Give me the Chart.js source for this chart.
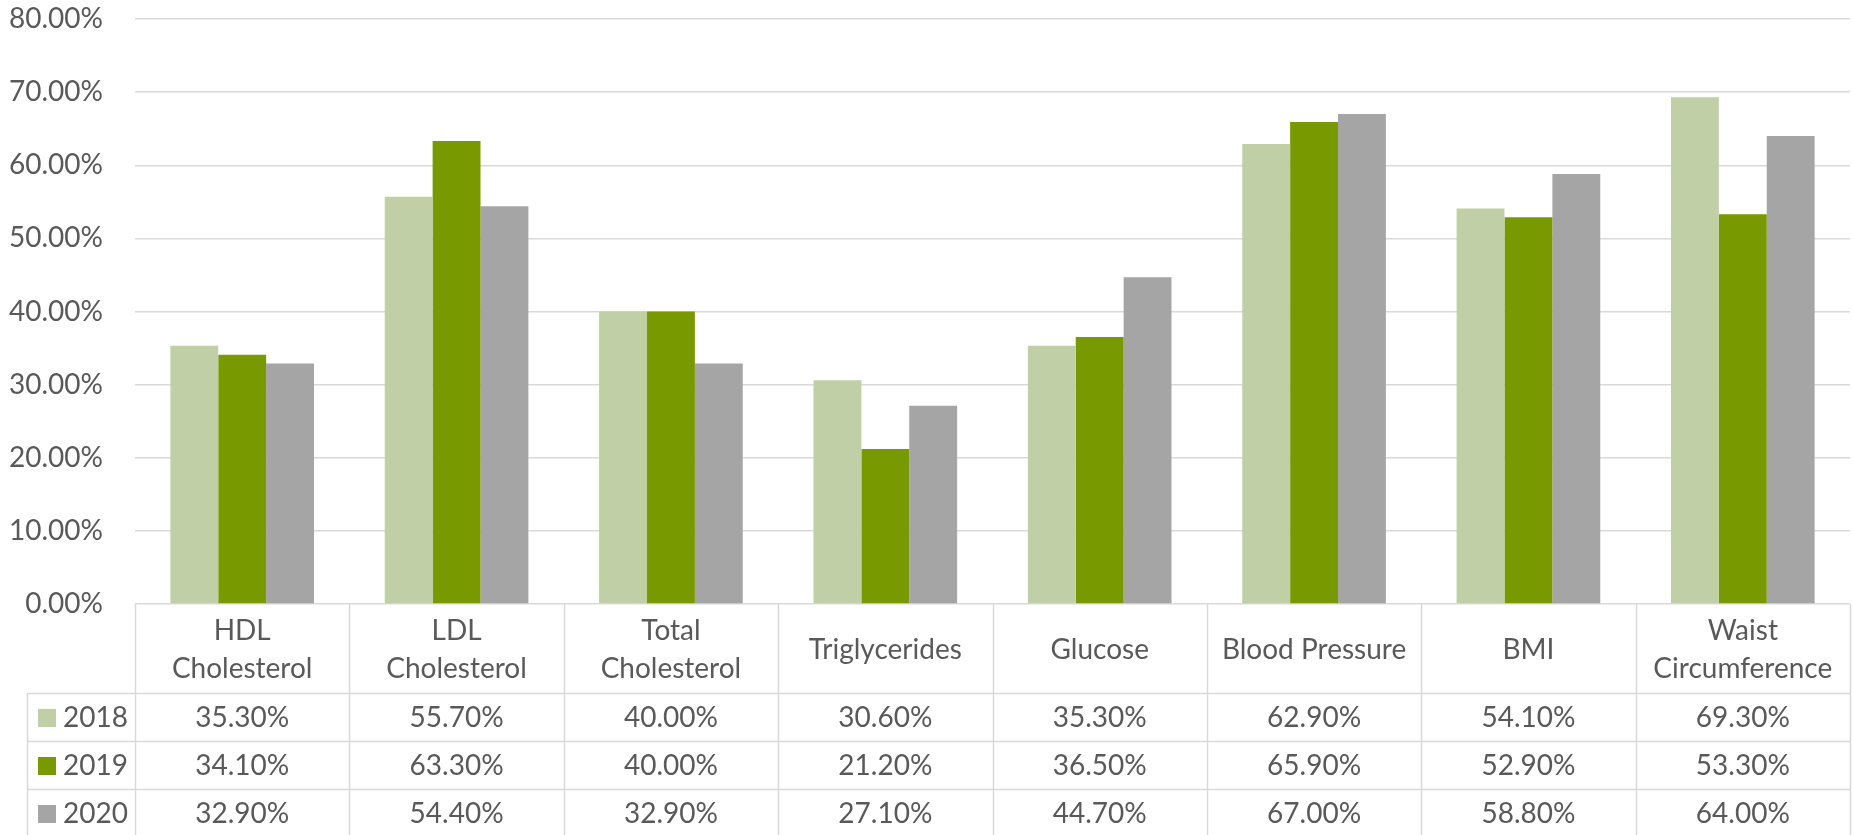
<!DOCTYPE html>
<html>
<head>
<meta charset="utf-8">
<script src="https://cdn.jsdelivr.net/npm/chart.js@4.4.1/dist/chart.umd.min.js"></script>
<style>
  html, body { margin: 0; padding: 0; background: #fff; }
  #wrap { width: 1853px; height: 835px; }
</style>
</head>
<body>
<div id="wrap"><canvas id="chart" width="1853" height="835"></canvas></div>
<script>
// categories (header lines of the data table)
const categories = [
    ['HDL', 'Cholesterol'],
    ['LDL', 'Cholesterol'],
    ['Total', 'Cholesterol'],
    ['Triglycerides'],
    ['Glucose'],
    ['Blood Pressure'],
    ['BMI'],
    ['Waist', 'Circumference']
];
const seriesNames = ['2018', '2019', '2020'];
const values2018 = [35.3, 55.7, 40.0, 30.6, 35.3, 62.9, 54.1, 69.3];
const values2019 = [34.1, 63.3, 40.0, 21.2, 36.5, 65.9, 52.9, 53.3];
const values2020 = [32.9, 54.4, 32.9, 27.1, 44.7, 67.0, 58.8, 64.0];
const yTicks = [0, 10, 20, 30, 40, 50, 60, 70, 80];

const colors = ['#C0CFA6', '#789A00', '#A5A5A5'];
const FONT = 'Lato, "Open Sans", sans-serif';
const TEXT = '#595959';
const LINE = '#D9D9D9';

const fmt = v => v.toFixed(2) + '%';

// tabla de datos debajo del grafico (como en Excel)
const dataTable = {
    id: 'dataTable',
    afterDraw(chart) {
        const ctx = chart.ctx;
        const area = chart.chartArea;
        const xs = chart.scales.x;
        const ys = chart.scales.y;
        const catW = (area.right - area.left) / categories.length;
        const top = ys.getPixelForValue(0);
        const headH = 89;
        const rowH = 48;
        const legendLeft = 27;
        const bottom = top + headH + rowH * seriesNames.length;

        ctx.save();
        ctx.strokeStyle = LINE;
        ctx.lineWidth = 1.5;
        ctx.beginPath();
        // vertical lines
        for (let i = 0; i <= categories.length; i++) {
            const x = Math.round(area.left + i * catW) + 0.5;
            ctx.moveTo(x, top);
            ctx.lineTo(x, bottom);
        }
        ctx.moveTo(legendLeft + 0.5, top + headH);
        ctx.lineTo(legendLeft + 0.5, bottom);
        // horizontal lines
        for (let r = 0; r <= seriesNames.length; r++) {
            const y = Math.round(top + headH + r * rowH) + 0.5;
            ctx.moveTo(legendLeft, y);
            ctx.lineTo(area.right, y);
        }
        ctx.stroke();

        ctx.fillStyle = TEXT;
        ctx.font = '28px ' + FONT;
        ctx.textAlign = 'center';
        ctx.textBaseline = 'middle';
        // header labels
        categories.forEach((lines, i) => {
            const cx = xs.getPixelForValue(i);
            const cy = top + headH / 2 + 1;
            const lh = 38;
            lines.forEach((t, k) => {
                ctx.fillText(t, cx, cy + (k - (lines.length - 1) / 2) * lh);
            });
        });
        // rows
        const all = [values2018, values2019, values2020];
        all.forEach((vals, r) => {
            const cy = top + headH + r * rowH + rowH / 2 + 1;
            ctx.textAlign = 'center';
            ctx.fillStyle = TEXT;
            vals.forEach((v, i) => {
                ctx.fillText(fmt(v), xs.getPixelForValue(i), cy);
            });
            ctx.fillStyle = colors[r];
            ctx.fillRect(38, cy - 9, 18, 18);
            ctx.fillStyle = TEXT;
            ctx.textAlign = 'left';
            ctx.fillText(seriesNames[r], 63, cy);
        });
        ctx.restore();
    }
};

const datasets = [values2018, values2019, values2020].map((vals, i) => ({
    label: seriesNames[i],
    data: vals,
    backgroundColor: colors[i],
    borderWidth: 0,
    categoryPercentage: 0.67,
    barPercentage: 1.0
}));

new Chart(document.getElementById('chart'), {
    type: 'bar',
    data: {
        labels: categories.map(c => c.join(' ')),
        datasets: datasets
    },
    options: {
        responsive: false,
        animation: false,
        events: [],
        layout: { padding: { top: 19, right: 3, bottom: 231, left: 0 } },
        plugins: {
            legend: { display: false },
            tooltip: { enabled: false }
        },
        scales: {
            x: { display: false },
            y: {
                min: 0,
                max: 80,
                afterFit: s => {
                    s.width = 135;
                    s.paddingTop = 0;
                    s.paddingBottom = 0;
                },
                afterBuildTicks: s => { s.ticks = yTicks.map(v => ({ value: v })); },
                border: { display: false },
                grid: { color: LINE, lineWidth: 1.5, drawTicks: false },
                ticks: {
                    padding: 32,
                    color: TEXT,
                    font: { family: FONT, size: 28 },
                    callback: v => fmt(v)
                }
            }
        }
    },
    plugins: [dataTable]
});
</script>
</body>
</html>
